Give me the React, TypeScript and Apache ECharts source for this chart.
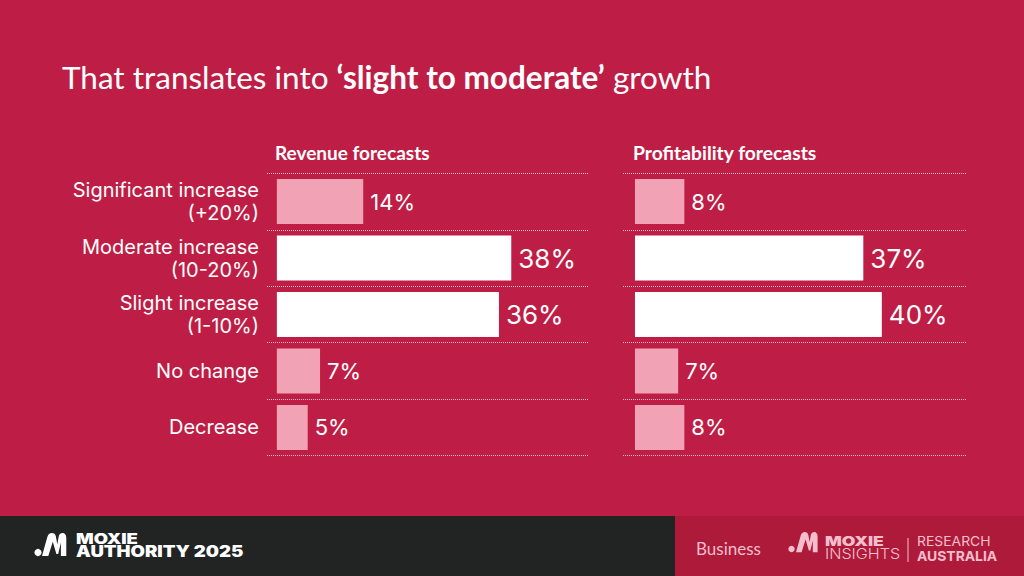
import React, { useEffect, useRef } from "react";
import * as echarts from "echarts";

const categories = [
  "Significant increase\n(+20%)",
  "Moderate increase\n(10-20%)",
  "Slight increase\n(1-10%)",
  "No change",
  "Decrease",
];
const revenueValues = [14, 38, 36, 7, 5];
const profitValues = [8, 37, 40, 7, 8];
const highlighted = [false, true, true, false, false];
const chartTitles = ["Revenue forecasts", "Profitability forecasts"];

const BG = "#BE1E45";
const PINK = "#F2A2B5";
const FOOT_PINK = "#F6BECC";

const M_PATH =
  "M0,24 L6,4 C7,1 9,0 11,0 C13,0 15,1 15.5,4 L17,12 L18.5,4 C19,1 21,0 23,0 C25,0 27,2 27,5 L27,24 L21,24 L21,10 L18,22 L16,22 L12,9 L7,24 Z";
echarts.graphic.registerShape("mlogo", echarts.graphic.extendPath(M_PATH, {}) as any);

function makeSeries(values: number[], idx: number) {
  return {
    type: "bar",
    xAxisIndex: idx,
    yAxisIndex: idx,
    barWidth: 45,
    data: values.map((v, i) => ({
      value: v,
      itemStyle: { color: highlighted[i] ? "#FFFFFF" : PINK },
      label: { fontSize: highlighted[i] ? 26 : 22 },
    })),
    label: {
      show: true,
      position: "right",
      distance: 7,
      formatter: "{c}%",
      color: "#FFFFFF",
      fontFamily: "Inter",
      fontSize: 22,
    },
  };
}

function makeYAxis(idx: number, showLabels: boolean) {
  return {
    type: "category",
    gridIndex: idx,
    inverse: true,
    data: categories,
    axisLine: { show: false },
    axisTick: { show: false },
    splitLine: {
      show: true,
      lineStyle: { type: "dotted", color: "rgba(255,215,225,0.85)", width: 1 },
    },
    axisLabel: {
      show: showLabels,
      margin: 8,
      color: "#FFFFFF",
      fontFamily: "Inter",
      fontSize: 20,
      lineHeight: 23,
      align: "right",
    },
  };
}

function ftext(text: string, x: number, cy: number, font: string, fill: string, scaleX = 1, lh = 11) {
  return {
    type: "text",
    x,
    y: cy,
    scaleX,
    style: { text, fill, font, verticalAlign: "middle", lineHeight: lh },
  };
}

export default function App() {
  const ref = useRef<HTMLDivElement>(null);
  useEffect(() => {
    document.body.style.margin = "0";
    if (!ref.current) return;
    const chart = echarts.init(ref.current, null, { renderer: "svg" });
    const option: any = {
      animation: false,
      backgroundColor: BG,
      title: [
        {
          left: 62,
          top: 61,
          padding: 0,
          text: "{n|That translates into }{b|‘slight to moderate’}{n| growth}",
          textStyle: {
            fontWeight: "normal",
            rich: {
              n: { fontFamily: "Lato", fontSize: 31.5, fontWeight: "normal", color: "#FFFFFF" },
              b: { fontFamily: "Lato", fontSize: 31.5, fontWeight: "bold", color: "#FFFFFF" },
            },
          },
        },
        {
          left: 275,
          top: 143,
          padding: 0,
          text: chartTitles[0],
          textStyle: { fontFamily: "Lato", fontSize: 19, fontWeight: "bold", color: "#FFFFFF" },
        },
        {
          left: 633,
          top: 143,
          padding: 0,
          text: chartTitles[1],
          textStyle: { fontFamily: "Lato", fontSize: 19.3, fontWeight: "bold", color: "#FFFFFF" },
        },
      ],
      grid: [
        { left: 267, top: 173.3, width: 322, height: 282.4 },
        { left: 623, top: 173.3, width: 344, height: 282.4 },
      ],
      xAxis: [
        { type: "value", gridIndex: 0, min: -1.6, max: 50.6, show: false },
        { type: "value", gridIndex: 1, min: -1.94, max: 53.8, show: false },
      ],
      yAxis: [makeYAxis(0, true), makeYAxis(1, false)],
      series: [makeSeries(revenueValues, 0), makeSeries(profitValues, 1)],
      graphic: [
        { type: "rect", shape: { x: 0, y: 516, width: 675, height: 60 }, style: { fill: "#222424" } },
        { type: "rect", shape: { x: 675, y: 516, width: 349, height: 60 }, style: { fill: "#AD1A3A" } },
        { type: "circle", shape: { cx: 38, cy: 552.5, r: 3.6 }, style: { fill: "#FFFFFF" } },
        { type: "mlogo", x: 42, y: 533, scaleX: 0.9, scaleY: 0.96, style: { fill: "#FFFFFF" } },
        ftext("MOXIE", 76, 538.5, "900 14px Inter", "#FFFFFF", 1.32),
        ftext("AUTHORITY 2025", 76, 551.5, "900 15.5px Inter", "#FFFFFF", 1.2),
        ftext("Business", 696, 548, "17px Lato", FOOT_PINK, 1, 17),
        { type: "circle", shape: { cx: 791.5, cy: 549, r: 3.2 }, style: { fill: FOOT_PINK } },
        { type: "mlogo", x: 796, y: 532, scaleX: 0.8, scaleY: 0.84, style: { fill: FOOT_PINK } },
        ftext("MOXIE", 825, 541, "900 13px Inter", FOOT_PINK, 1.35),
        ftext("INSIGHTS", 825, 553.5, "300 14px Inter", FOOT_PINK, 1.15),
        {
          type: "line",
          shape: { x1: 908, y1: 538, x2: 908, y2: 562 },
          style: { stroke: FOOT_PINK, lineWidth: 1 },
        },
        ftext("RESEARCH", 917, 541.5, "13.5px Inter", FOOT_PINK, 1.03),
        ftext("AUSTRALIA", 917, 556, "bold 13.5px Inter", FOOT_PINK, 1.03),
      ],
    };
    chart.setOption(option);
    return () => chart.dispose();
  }, []);
  return <div ref={ref} style={{ width: 1024, height: 576 }} />;
}
